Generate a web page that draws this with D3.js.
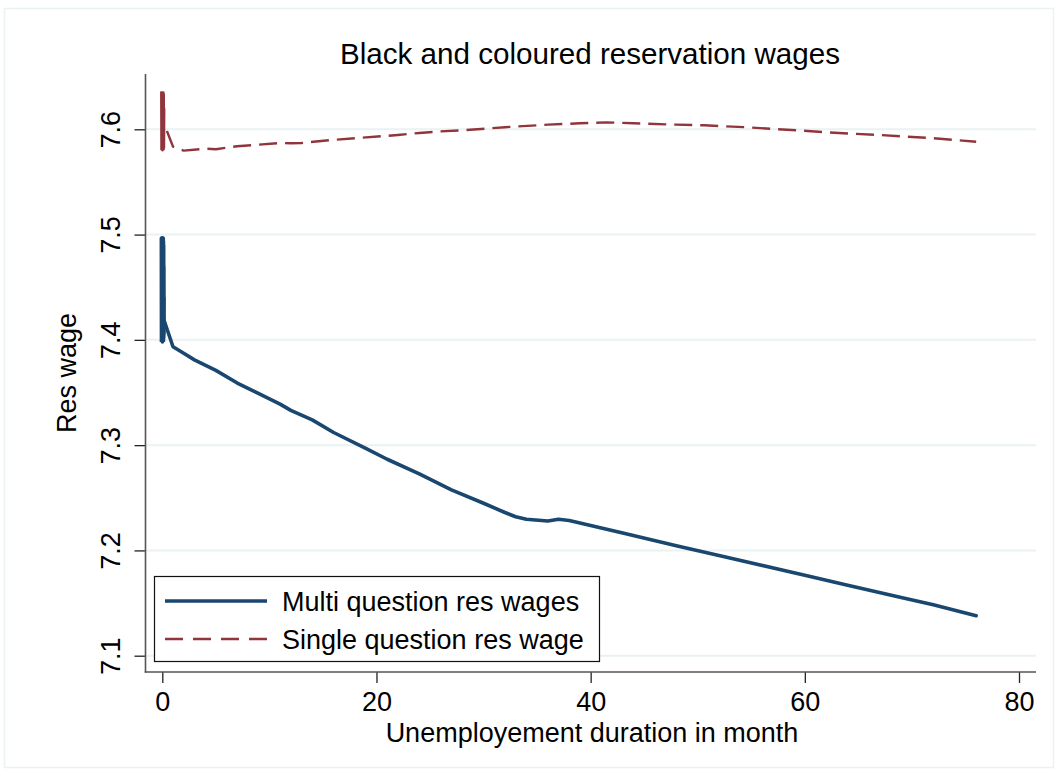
<!DOCTYPE html>
<html>
<head>
<meta charset="utf-8">
<script src="https://cdn.jsdelivr.net/npm/d3@7"></script>
<style>
  html, body { margin: 0; padding: 0; background: #ffffff; }
  svg { display: block; font-family: "Liberation Sans", Arial, Helvetica, sans-serif; }
</style>
</head>
<body>
<svg id="chart" width="1058" height="772"></svg>
<script>
// Reservation wage paths by unemployment duration (months)
const multiDuration = [0, 0.01, 0.02, 0.03, 0.04, 0.05, 0.06, 0.07, 0.08, 0.1,
  1, 2, 3, 4, 5, 7, 11, 12, 14, 16, 19, 21, 24, 27, 30, 32, 33, 34, 36, 37, 38,
  43, 48, 53, 60, 64, 69, 72, 76];
const multiWage = [7.496, 7.398, 7.494, 7.400, 7.490, 7.402, 7.470, 7.405, 7.440, 7.4205,
  7.3935, 7.3873, 7.381, 7.376, 7.371, 7.359, 7.339, 7.333, 7.324, 7.312, 7.297, 7.2866,
  7.2727, 7.2575, 7.2448, 7.236, 7.232, 7.2296, 7.228, 7.2296, 7.2285,
  7.2166, 7.2045, 7.1927, 7.1765, 7.167, 7.1552, 7.1485, 7.138];

const singleDuration = [0, 0.02, 0.04, 0.06, 0.08, 0.1,
  1, 2, 4, 5, 6, 7, 9, 11, 12, 13, 16, 18, 22, 24, 26, 28, 32, 36, 39, 41.5,
  44, 48, 50.6, 54.6, 59.3, 63.6, 67, 72, 76];
const singleWage = [7.636, 7.580, 7.634, 7.582, 7.620, 7.607,
  7.5835, 7.5797, 7.5816, 7.581, 7.5825, 7.5839, 7.5854, 7.587, 7.5867, 7.587,
  7.590, 7.5915, 7.5946, 7.5965, 7.598, 7.599, 7.602, 7.6044, 7.6057, 7.6066,
  7.6057, 7.6044, 7.6038, 7.6019, 7.599, 7.5962, 7.5946, 7.5915, 7.5882];

const xTicks = [0, 20, 40, 60, 80];
const yTicks = [7.1, 7.2, 7.3, 7.4, 7.5, 7.6];

const titleText = "Black and coloured reservation wages";
const xTitle = "Unemployement duration in month";
const yTitle = "Res wage";
const legendLabels = ["Multi question res wages", "Single question res wage"];

// Layout
const plot = { left: 145.5, right: 1036, top: 74, bottom: 672 };
const blue = "#1a476f", red = "#90353b", gridCol = "#eaf2f3";

const svg = d3.select("#chart");

const x = d3.scaleLinear().domain([0, 80]).range([162.3, 1019]);
const y = d3.scaleLinear().domain([7.1, 7.6]).range([655.7, 129.3]);

// Graph region outline
svg.append("rect")
  .attr("x", 4.5).attr("y", 8.5).attr("width", 1049).attr("height", 759)
  .attr("fill", "none").attr("stroke", gridCol).attr("stroke-width", 1.5);

// Horizontal grid lines
svg.append("g").selectAll("line").data(yTicks).join("line")
  .attr("x1", plot.left).attr("x2", plot.right)
  .attr("y1", d => y(d)).attr("y2", d => y(d))
  .attr("stroke", gridCol).attr("stroke-width", 2);

// Y axis
const yAxis = svg.append("g")
  .attr("transform", `translate(${plot.left},0)`)
  .call(d3.axisLeft(y).tickValues(yTicks).tickSize(11).tickPadding(0).tickFormat(d3.format(".1f")));
yAxis.select(".domain").remove();
yAxis.selectAll(".tick line").attr("stroke", "#222").attr("stroke-width", 1.3);
yAxis.selectAll(".tick text")
  .attr("x", null).attr("dy", null)
  .attr("transform", "translate(-25.5,0) rotate(-90)")
  .attr("text-anchor", "middle")
  .attr("font-size", 27).attr("fill", "#000")
  .style("font-family", "'Liberation Sans', Arial, sans-serif");

// X axis
const xAxis = svg.append("g")
  .attr("transform", `translate(0,${plot.bottom})`)
  .call(d3.axisBottom(x).tickValues(xTicks).tickSize(11).tickPadding(0).tickFormat(d3.format("d")));
xAxis.select(".domain").remove();
xAxis.selectAll(".tick line").attr("stroke", "#222").attr("stroke-width", 1.3);
xAxis.selectAll(".tick text")
  .attr("y", 39).attr("dy", null)
  .attr("font-size", 27).attr("fill", "#000")
  .style("font-family", "'Liberation Sans', Arial, sans-serif");

// Axis lines
svg.append("line")
  .attr("x1", plot.left).attr("x2", plot.left).attr("y1", plot.top).attr("y2", plot.bottom + 0.6)
  .attr("stroke", "#555").attr("stroke-width", 1.6);
svg.append("line")
  .attr("x1", plot.left - 0.8).attr("x2", plot.right).attr("y1", plot.bottom).attr("y2", plot.bottom)
  .attr("stroke", "#555").attr("stroke-width", 1.6);

// Lines
const line = d3.line().x(d => x(d[0])).y(d => y(d[1]));
const multiPts = multiDuration.map((d, i) => [d, multiWage[i]]);
const singlePts = singleDuration.map((d, i) => [d, singleWage[i]]);

svg.append("path").datum(singlePts)
  .attr("d", line).attr("fill", "none")
  .attr("stroke", red).attr("stroke-width", 2.4)
  .attr("stroke-dasharray", "18,8")
  .attr("stroke-linejoin", "round");
// dense cluster of short durations near zero renders as a continuous, heavier stroke
svg.append("path").datum(singlePts.filter(d => d[0] < 0.1))
  .attr("d", line).attr("fill", "none")
  .attr("stroke", red).attr("stroke-width", 4.5);

svg.append("path").datum(multiPts)
  .attr("d", line).attr("fill", "none")
  .attr("stroke", blue).attr("stroke-width", 3.6)
  .attr("stroke-linejoin", "round").attr("stroke-linecap", "round");
svg.append("path").datum(multiPts.filter(d => d[0] < 0.1))
  .attr("d", line).attr("fill", "none")
  .attr("stroke", blue).attr("stroke-width", 5.5)
  .attr("stroke-linecap", "round");

// Titles
svg.append("text").attr("x", 590).attr("y", 64)
  .attr("text-anchor", "middle").attr("font-size", 29.6).attr("fill", "#000")
  .text(titleText);
svg.append("text").attr("x", 592).attr("y", 742)
  .attr("text-anchor", "middle").attr("font-size", 27).attr("fill", "#000")
  .text(xTitle);
svg.append("text")
  .attr("transform", `translate(76,${(plot.top + plot.bottom) / 2}) rotate(-90)`)
  .attr("text-anchor", "middle").attr("font-size", 27).attr("fill", "#000")
  .text(yTitle);

// Legend
const legend = svg.append("g");
legend.append("rect")
  .attr("x", 154.5).attr("y", 576.5).attr("width", 445).attr("height", 85)
  .attr("fill", "#fff").attr("stroke", "#111").attr("stroke-width", 1.2);
const legendStyles = [
  { color: blue, width: 3.6, dash: null },
  { color: red, width: 2.4, dash: "18,10" }
];
legendLabels.forEach((lab, i) => {
  const ly = 601 + i * 38;
  legend.append("line")
    .attr("x1", 165).attr("x2", 267).attr("y1", ly).attr("y2", ly)
    .attr("stroke", legendStyles[i].color).attr("stroke-width", legendStyles[i].width)
    .attr("stroke-dasharray", legendStyles[i].dash);
  legend.append("text")
    .attr("x", 282).attr("y", ly + 9.7)
    .attr("font-size", 27).attr("fill", "#000")
    .text(lab);
});
</script>
</body>
</html>
